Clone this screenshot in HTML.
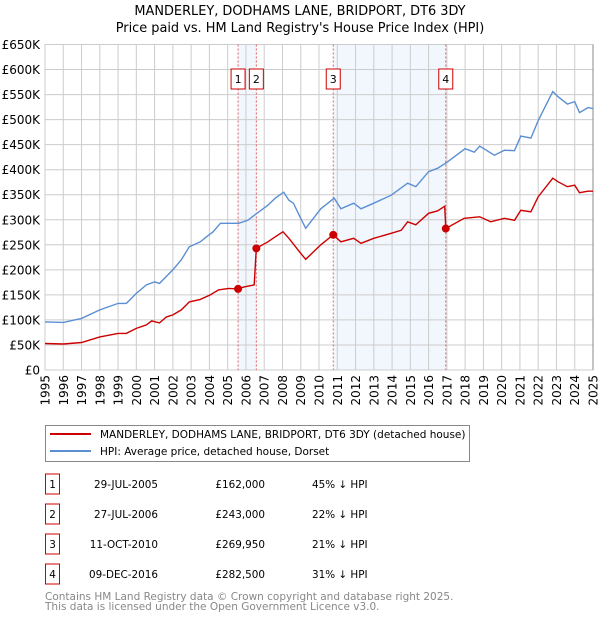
<!DOCTYPE html>
<html><head><meta charset="utf-8"><style>
body{margin:0;background:#fff;}
svg{display:block;font-family:"DejaVu Sans","Liberation Sans",sans-serif;}
</style></head><body>
<svg id="chart" width="600" height="620" viewBox="0 0 600 620">
<text x="300" y="15" text-anchor="middle" font-size="12.9">MANDERLEY, DODHAMS LANE, BRIDPORT, DT6 3DY</text>
<text x="300" y="32" text-anchor="middle" font-size="12.9">Price paid vs. HM Land Registry's House Price Index (HPI)</text>
<g id="shade"></g><g id="grid"></g><g id="vlines"></g><g id="series"></g><g id="markers"></g><g id="labels"></g>
<g>
<rect x="45.5" y="425.5" width="424" height="36" fill="#fff" stroke="#888"/>
<line x1="50" y1="434" x2="91" y2="434" stroke="#cc0000" stroke-width="2"/>
<text x="100" y="438" font-size="10.5">MANDERLEY, DODHAMS LANE, BRIDPORT, DT6 3DY (detached house)</text>
<line x1="50" y1="451" x2="91" y2="451" stroke="#5b8fd4" stroke-width="2"/>
<text x="100" y="455" font-size="10.5">HPI: Average price, detached house, Dorset</text>
</g>
<g id="table" font-size="10.4"></g>
<text x="45" y="600" font-size="10.5" fill="#888">Contains HM Land Registry data © Crown copyright and database right 2025.</text>
<text x="45" y="610" font-size="10.5" fill="#888">This data is licensed under the Open Government Licence v3.0.</text>
</svg>
<script>
const hpiYears=[1995,1996,1997,1998,1999,1999.45,2000,2000.55,2001,2001.27,2002,2002.46,2002.9,2003.5,2003.84,2004.2,2004.6,2005.6,2006.1,2006.6,2007.2,2007.6,2008.07,2008.35,2008.6,2009,2009.27,2010.1,2010.83,2011.2,2011.9,2012.3,2013,2013.95,2014.85,2015.3,2016,2016.5,2017.05,2018,2018.5,2018.8,2019.6,2020.15,2020.7,2021.05,2021.6,2022,2022.8,2023.08,2023.6,2024,2024.26,2024.72,2025];
const hpiValues=[96,95,103,120,133,133,153,170,176,173,200,220,246,256,266,276,293,293,299,313,329,343,355,339,333,303,283,322,343,322,333,322,333,349,373,366,396,403,416,442,435,447,429,439,438,467,463,498,556,546,531,536,514,524,522];
const redYears=[1995,1996,1997,1998,1999,1999.45,2000,2000.55,2000.84,2001.27,2001.65,2002,2002.46,2002.9,2003.5,2004.05,2004.5,2005.05,2005.57,2005.9,2006.45,2006.57,2007.2,2007.6,2008.03,2008.35,2009,2009.27,2010.1,2010.78,2011.2,2011.9,2012.3,2013,2013.95,2014.5,2014.85,2015.3,2016,2016.5,2016.88,2016.94,2017.95,2018.8,2019.4,2020.15,2020.7,2021.05,2021.6,2022,2022.8,2023.08,2023.6,2024,2024.26,2024.72,2025];
const redValues=[53,52,55,66,73,73,83,90,98,94,106,110,120,136,141,150,160,163,162,166,170,243,256,266,276,263,233,221,250,269.95,256,263,253,263,273,279,296,290,313,318,327,282.5,303,306,296,303,299,319,316,346,383,376,366,369,354,357,357];
const saleLabels=["1","2","3","4"];
const saleYears=[2005.57,2006.57,2010.78,2016.94];
const saleValues=[162,243,269.95,282.5];
const saleDates=["29-JUL-2005","27-JUL-2006","11-OCT-2010","09-DEC-2016"];
const salePrices=["£162,000","£243,000","£269,950","£282,500"];
const saleDiffs=["45% ↓ HPI","22% ↓ HPI","21% ↓ HPI","31% ↓ HPI"];
const yTicks=[0,50,100,150,200,250,300,350,400,450,500,550,600,650];
const xTicks=[1995,1996,1997,1998,1999,2000,2001,2002,2003,2004,2005,2006,2007,2008,2009,2010,2011,2012,2013,2014,2015,2016,2017,2018,2019,2020,2021,2022,2023,2024,2025];
const X0=45,X1=593,Y0=370,Y1=44.5;
function sx(y){return X0+(y-1995)/30*(X1-X0);}
function sy(v){return Y0-v/650*(Y0-Y1);}
const NS="http://www.w3.org/2000/svg";
function mk(tag,parent,attrs){const e=document.createElementNS(NS,tag);for(const k in attrs)e.setAttribute(k,attrs[k]);document.getElementById(parent).appendChild(e);return e;}
let e;
e=mk('rect','shade',{x:sx(saleYears[0]),y:Y1,width:sx(saleYears[1])-sx(saleYears[0]),height:Y0-Y1,fill:'#f2f6fd'});


e=mk('rect','shade',{x:sx(saleYears[2]),y:Y1,width:sx(saleYears[3])-sx(saleYears[2]),height:Y0-Y1,fill:'#f2f6fd'});


yTicks.forEach(v=>{
 e=mk('line','grid',{x1:X0,x2:X1,y1:sy(v),y2:sy(v),stroke:'#ccc','stroke-width':1});
 
 
 e=mk('text','labels',{x:40,y:sy(v)+4.5,'text-anchor':'end','font-size':12});
 e.textContent=v===0?'£0':'£'+v+'K';
 
 
});
xTicks.forEach(y=>{
 e=mk('line','grid',{x1:sx(y),x2:sx(y),y1:Y1,y2:Y0,stroke:'#ccc','stroke-width':1});
 
 
 e=mk('text','labels',{x:0,y:0,'text-anchor':'end','font-size':12,transform:'translate('+(sx(y)+4.5)+',375) rotate(-90)'});
 e.textContent=y;
 
 
});
e=mk('line','grid',{x1:X1,x2:X1,y1:Y1,y2:Y0,stroke:'#888','stroke-width':1});


saleYears.forEach((y,i)=>{
 e=mk('line','vlines',{x1:sx(y),x2:sx(y),y1:Y1,y2:Y0,stroke:'#e06060','stroke-width':1,'stroke-dasharray':'2,2'});
 
 
 e=mk('rect','vlines',{x:sx(y)-7,y:69,width:14,height:20,fill:'#fff',stroke:'#cc0000'});
 
 
 e=mk('text','vlines',{x:sx(y),y:83,'text-anchor':'middle','font-size':11});
 e.textContent=saleLabels[i];
 
 
});
function path(xs,vs){return xs.map((y,i)=>(i?'L':'M')+sx(y).toFixed(1)+','+sy(vs[i]).toFixed(1)).join('');}
e=mk('path','series',{d:path(hpiYears,hpiValues),fill:'none',stroke:'#5b8fd4','stroke-width':1.4});


e=mk('path','series',{d:path(redYears,redValues),fill:'none',stroke:'#cc0000','stroke-width':1.4});


saleYears.forEach((y,i)=>{
 e=mk('circle','markers',{cx:sx(y),cy:sy(saleValues[i]),r:4,fill:'#cc0000'});
 
 
});
saleLabels.forEach((l,i)=>{
 const cy=484+i*30;
 e=mk('rect','table',{x:45.5,y:cy-10,width:14,height:20,fill:'#fff',stroke:'#cc0000'});
 
 
 e=mk('text','table',{x:52.5,y:cy+4,'text-anchor':'middle'});
 e.textContent=l;
 
 
 e=mk('text','table',{x:158,y:cy+4,'text-anchor':'end'});
 e.textContent=saleDates[i];
 
 
 e=mk('text','table',{x:265,y:cy+4,'text-anchor':'end'});
 e.textContent=salePrices[i];
 
 
 e=mk('text','table',{x:312,y:cy+4});
 e.textContent=saleDiffs[i];
 
 
});
</script>
</body></html>
